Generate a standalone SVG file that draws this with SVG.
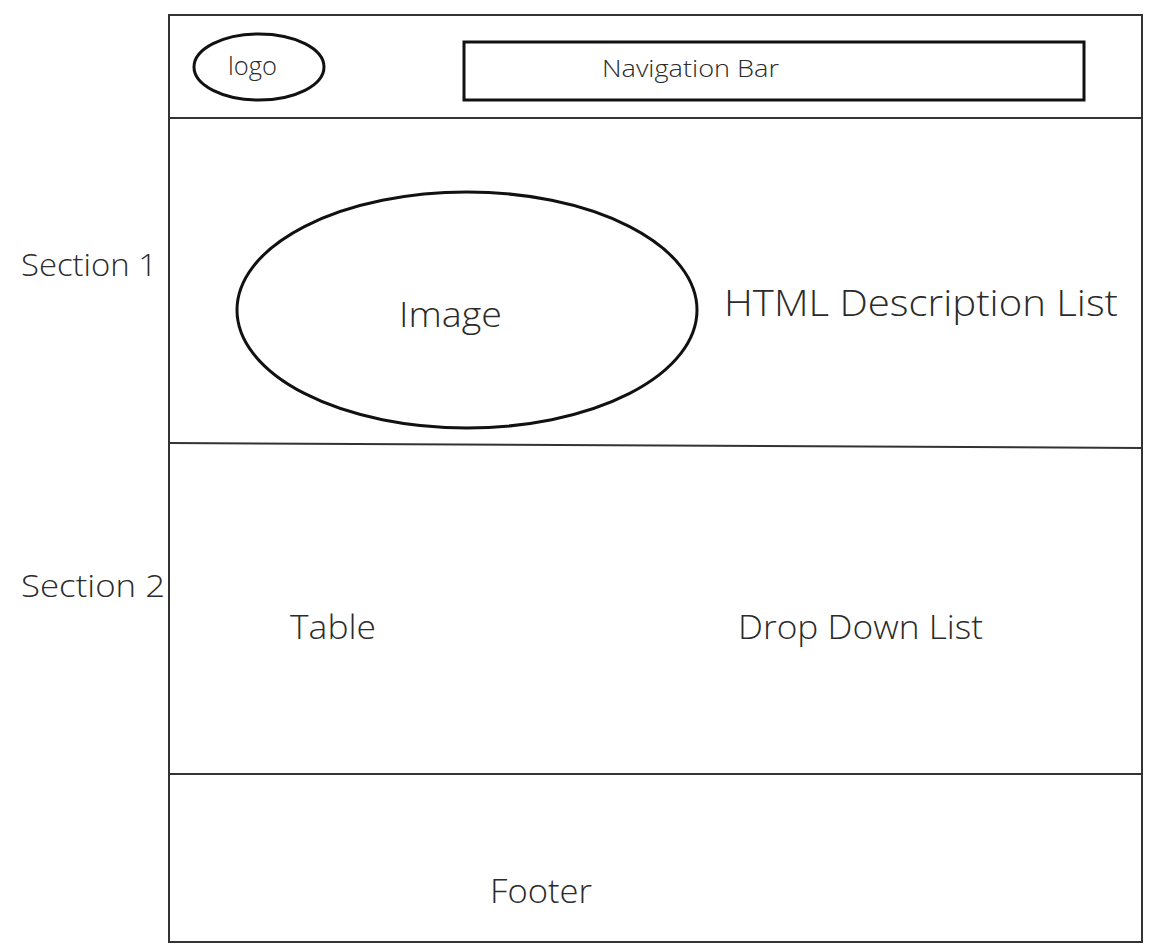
<svg xmlns="http://www.w3.org/2000/svg" width="1161" height="951" viewBox="0 0 1161 951">
<style>
.t{font-family:"Open Sans","Noto Sans","Liberation Sans",sans-serif;fill:#2b2b2b;font-weight:350}
.frame{fill:none;stroke:#333;stroke-width:2}
.shape{fill:none;stroke:#111;stroke-width:3}
</style>
<rect width="1161" height="951" fill="#fff"/>
<g id="page">
<rect class="frame" x="169" y="15" width="973" height="927"/>
</g>
<g id="connectors">
<line class="frame" x1="169" y1="118" x2="1142" y2="118"/>
<line class="frame" x1="169" y1="443" x2="1142" y2="448"/>
<line class="frame" x1="169" y1="774" x2="1142" y2="774"/>
</g>
<g id="logo">
<ellipse class="shape" cx="259" cy="67" rx="65" ry="33"/>
<text class="t" x="228" y="75" font-size="25" textLength="49" lengthAdjust="spacingAndGlyphs">logo</text>
</g>
<g id="nav">
<rect class="shape" x="464" y="42" width="620" height="58"/>
<text class="t" x="602" y="77" font-size="24" textLength="177" lengthAdjust="spacingAndGlyphs">Navigation Bar</text>
</g>
<g id="section1-label"><text class="t" x="21" y="276" font-size="32" textLength="136" lengthAdjust="spacingAndGlyphs">Section 1</text></g>
<g id="section2-label"><text class="t" x="21" y="597" font-size="32" textLength="144" lengthAdjust="spacingAndGlyphs">Section 2</text></g>
<g id="image">
<ellipse class="shape" cx="467" cy="310" rx="230" ry="118"/>
<text class="t" x="399" y="327" font-size="35" textLength="103" lengthAdjust="spacingAndGlyphs">Image</text>
</g>
<g id="dl"><text class="t" x="724" y="316" font-size="36" textLength="394" lengthAdjust="spacingAndGlyphs">HTML Description List</text></g>
<g id="table"><text class="t" x="290" y="639" font-size="33" textLength="86" lengthAdjust="spacingAndGlyphs">Table</text></g>
<g id="dropdown"><text class="t" x="738" y="639" font-size="33" textLength="245" lengthAdjust="spacingAndGlyphs">Drop Down List</text></g>
<g id="footer"><text class="t" x="490" y="903" font-size="33" textLength="102" lengthAdjust="spacingAndGlyphs">Footer</text></g>
</svg>
